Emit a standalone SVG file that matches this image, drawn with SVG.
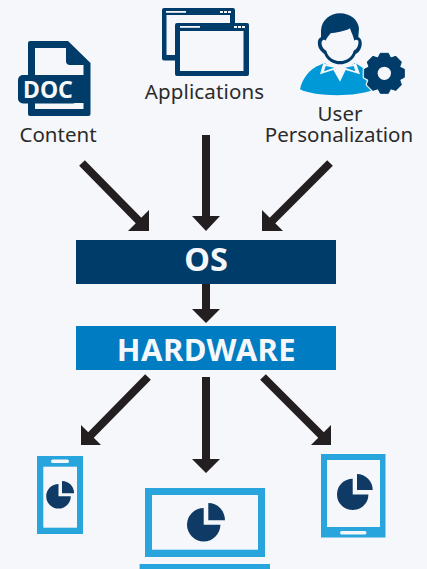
<svg xmlns="http://www.w3.org/2000/svg" width="427" height="569" viewBox="0 0 427 569">
<style>
.t{font-family:"Noto Sans","Open Sans","Liberation Sans",sans-serif;font-size:20.5px;fill:#2b2b2b;text-anchor:middle}
.b{font-family:"Noto Sans","Open Sans","Liberation Sans",sans-serif;font-weight:700;fill:#f5f7fa;text-anchor:middle}
.n{fill:#003c69}.c{fill:#29a5dd}.p{fill:#0f3a66}.w{fill:#f5f7fa}.u{fill:#0099d8}
.s{stroke:#231f20;stroke-width:8;fill:none}.h{fill:#231f20}
</style>
<defs>
<g id="gear">
<circle r="47"/>
<path id="tooth" d="M-20-44L-12-60H12L20-44Z"/>
<use href="#tooth" transform="rotate(45)"/><use href="#tooth" transform="rotate(90)"/><use href="#tooth" transform="rotate(135)"/><use href="#tooth" transform="rotate(180)"/><use href="#tooth" transform="rotate(225)"/><use href="#tooth" transform="rotate(270)"/><use href="#tooth" transform="rotate(315)"/>
</g>
</defs>
<rect width="427" height="569" fill="#f5f7fa"/>
<g id="content">
<path class="n" fill-rule="evenodd" d="M30 41H68L90.500 63V114Q90.500 116 88.500 116H30Q28 116 28 114V43Q28 41 30 41ZM35 48V75H83.500V65H70Q66 65 66 61V48ZM35 103V109H83.500V103Z"/>
<rect class="n" x="18" y="75" width="60" height="28.500" rx="5"/>
<text class="b" x="48" y="98" font-size="23">DOC</text>
<text class="t" x="58" y="142">Content</text>
</g>
<g id="applications">
<path class="n" fill-rule="evenodd" d="M164 8H233Q235 8 235 10V23H230V15H166.500V55H175V60.500H164Q162 60.500 162 58.500V10Q162 8 164 8Z"/>
<rect class="w" x="166" y="11" width="20" height="1.800"/>
<path class="w" d="M220 11h3v2h-3zM224 11h3v2h-3zM228 11h3v2h-3z"/>
<path class="n" fill-rule="evenodd" d="M177 23H247Q249 23 249 25V74Q249 76 247 76H177Q175 76 175 74V25Q175 23 177 23ZM180 31V71H243.500V31Z"/>
<rect class="w" x="180" y="26" width="20" height="1.800"/>
<path class="w" d="M234 26h3v2h-3zM238 26h3v2h-3zM242 26h3v2h-3z"/>
<text class="t" x="204.500" y="99" letter-spacing=".15">Applications</text>
</g>
<g id="user-personalization">
<g transform="translate(295 10) scale(.3333)">
<path class="u" d="M15 238C22 205 45 175 75 165L88 158L135 190L180 158L205 175C210 195 215 225 232 240C190 260 60 262 15 238Z"/>
<path class="w" d="M85 158L75 193L115 180L135 215L152 180L195 193L183 158L135 182Z"/>
<path class="u" d="M92 168L87 184L118 173ZM176 168L181 184L150 173Z"/>
<path class="n" d="M135 10C105 10 80 30 78 62L78 82C68 85 66 100 72 115C78 125 85 130 88 132C95 150 115 163 135 163C155 163 175 150 182 132C190 128 198 120 200 105C202 92 196 84 190 82L192 55C190 30 165 10 135 10Z"/>
<path class="w" d="M107 70C120 68 150 65 165 55C170 70 175 78 178 92C180 88 186 88 190 92C192 105 185 118 176 122C172 140 155 153 135 153C115 153 98 140 94 122C85 118 78 105 80 95C84 88 90 88 92 92C95 85 100 78 107 70Z"/>
<g transform="translate(268 190)">
<use href="#gear" fill="#f5f7fa" stroke="#f5f7fa" stroke-width="10" stroke-linejoin="round"/>
<use href="#gear" fill="#003c69" stroke="#003c69" stroke-width="3" stroke-linejoin="round"/>
<circle class="w" r="20"/>
</g>
</g>
<text class="t"><tspan x="340" y="121">User</tspan><tspan x="339" y="142">Personalization</tspan></text>
</g>
<g id="os"><rect class="n" x="76" y="240" width="260" height="44"/><text class="b" x="206" y="270.500" font-size="32.500">OS</text></g>
<g id="hardware"><rect x="76" y="326" width="260" height="44" fill="#007cc2"/><text class="b" x="206.500" y="360.500" font-size="31" letter-spacing=".45">HARDWARE</text></g>
<g id="connectors">
<path class="s" d="M206 135V218M82 163L140 222M330 163L271 222M206 284V311M206 377V461M148 377L90 436M263 377L322 436"/>
<path class="h" d="M192 216H220L206 231ZM149 231V210L128 231ZM262 231V210L283 231ZM192 309H220L206 323ZM192 459H220L206 473ZM81 445V425L101 445ZM331 445V425L311 445Z"/>
</g>
<g id="phone">
<rect class="c" x="37" y="456" width="46" height="78"/><rect class="w" x="43.300" y="466.700" width="33.700" height="61"/><rect class="w" x="51" y="459.500" width="18" height="3.500" rx="1.700"/>
<path class="p" d="M58.500 484A12.300 12.300 0 1 0 70.800 496.300H58.500ZM62 481A12 12 0 0 1 74 493.300H62Z"/>
</g>
<g id="laptop">
<rect class="c" x="145" y="488" width="120" height="69"/><rect class="w" x="152" y="495" width="106" height="54.700"/><rect class="c" x="139.600" y="564" width="130.400" height="5"/>
<path class="p" d="M203.700 508A16.700 16.700 0 1 0 220.400 524.700H203.700ZM208.300 503A16.700 17.300 0 0 1 225 520.300H208.300Z"/>
</g>
<g id="tablet">
<rect class="c" x="321" y="454" width="64.500" height="83.500"/><rect class="w" x="327" y="460" width="53" height="67"/><rect class="w" x="340" y="531" width="26.500" height="3.500" rx="1.700"/>
<path class="p" d="M352.700 478.700A15.700 15.700 0 1 0 368.400 494.400H352.700ZM357 474A15.700 16 0 0 1 372.700 490H357Z"/>
</g>
</svg>
